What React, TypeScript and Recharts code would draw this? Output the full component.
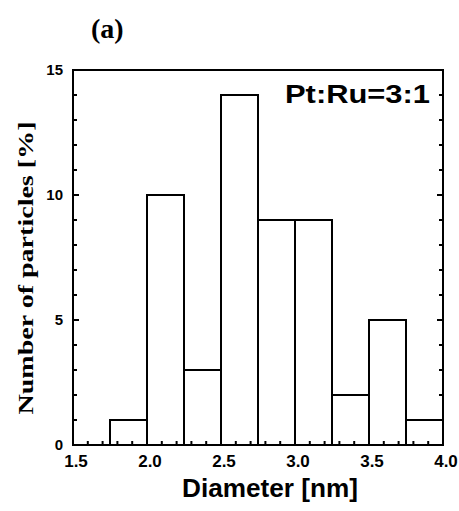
import { ComposedChart, Bar, XAxis, YAxis, ReferenceArea } from 'recharts'

const binStart = [1.5, 1.75, 2.0, 2.25, 2.5, 2.75, 3.0, 3.25, 3.5, 3.75]
const binWidth = 0.25
const counts = [0, 1, 10, 3, 14, 9, 9, 2, 5, 1]

const xTicks = [1.5, 1.6, 1.7, 1.8, 1.9, 2.0, 2.1, 2.2, 2.3, 2.4, 2.5, 2.6, 2.7, 2.8, 2.9, 3.0, 3.1, 3.2, 3.3, 3.4, 3.5, 3.6, 3.7, 3.8, 3.9, 4.0]
const yTicks = [0, 1, 2, 3, 4, 5, 6, 7, 8, 9, 10, 11, 12, 13, 14, 15]
const xMajor = [1.5, 2.0, 2.5, 3.0, 3.5, 4.0]
const yMajor = [0, 5, 10, 15]

const data = binStart.map((s, i) => ({
  bin: `${s.toFixed(2)}-${(s + binWidth).toFixed(2)}`,
  mid: s + binWidth / 2,
  count: counts[i],
}))

const sans = '"Liberation Sans", Arial, sans-serif'
const serif = '"Liberation Serif", "Times New Roman", serif'

const isMajor = (list: number[], v: number) => list.some((m) => Math.abs(m - v) < 1e-6)

function BottomTick(props: any) {
  const { x, y, payload } = props
  const major = isMajor(xMajor, payload.value)
  return (
    <g>
      <line x1={x} y1={y} x2={x} y2={y - (major ? 6 : 4)} stroke="#000" strokeWidth={2} />
      {major && (
        <text x={x + 3} y={y + 22} textAnchor="middle" fontFamily={sans} fontWeight="bold" fontSize={17} fill="#000">
          {payload.value.toFixed(1)}
        </text>
      )}
    </g>
  )
}

function LeftTick(props: any) {
  const { x, y, payload } = props
  const major = isMajor(yMajor, payload.value)
  return (
    <g>
      <line x1={x} y1={y} x2={x + (major ? 6 : 4)} y2={y} stroke="#000" strokeWidth={2} />
      {major && (
        <text x={x - 10} y={y + 5} textAnchor="end" fontFamily={sans} fontWeight="bold" fontSize={15} fill="#000">
          {payload.value}
        </text>
      )}
    </g>
  )
}

function RightTick(props: any) {
  const { x, y, payload } = props
  const major = isMajor(yMajor, payload.value)
  return <line x1={x} y1={y} x2={x - (major ? 6 : 4)} y2={y} stroke="#000" strokeWidth={2} />
}

export default function App() {
  return (
    <div style={{ position: 'absolute', left: 0, top: 0, width: 459, height: 511, background: '#fff' }}>
      <ComposedChart
        width={459}
        height={511}
        data={data}
        barCategoryGap={0}
        barGap={0}
        margin={{ top: 70, right: 15, left: 72, bottom: 65 }}
      >
        <XAxis
          xAxisId="num"
          dataKey="mid"
          type="number"
          domain={[1.5, 4]}
          allowDataOverflow
          ticks={xTicks}
          interval={0}
          height={1}
          tickSize={0}
          tickMargin={0}
          tick={<BottomTick />}
          tickLine={false}
          axisLine={false}
        />
        <XAxis xAxisId="cat" dataKey="bin" hide height={0} />
        <YAxis
          yAxisId="left"
          type="number"
          domain={[0, 15]}
          allowDataOverflow
          ticks={yTicks}
          interval={0}
          width={1}
          tickSize={0}
          tickMargin={0}
          tick={<LeftTick />}
          tickLine={false}
          axisLine={false}
        />
        <YAxis
          yAxisId="right"
          orientation="right"
          type="number"
          domain={[0, 15]}
          allowDataOverflow
          ticks={yTicks}
          interval={0}
          width={1}
          tickSize={0}
          tickMargin={0}
          tick={<RightTick />}
          tickLine={false}
          axisLine={false}
        />
        <Bar
          xAxisId="cat"
          yAxisId="left"
          dataKey="count"
          fill="#fff"
          stroke="#000"
          strokeWidth={2}
          isAnimationActive={false}
        />
        <ReferenceArea
          xAxisId="num"
          yAxisId="left"
          x1={1.5}
          x2={4}
          y1={0}
          y2={15}
          fill="none"
          stroke="#000"
          strokeWidth={2}
          ifOverflow="visible"
        />
      </ComposedChart>
      <svg width={459} height={511} style={{ position: 'absolute', left: 0, top: 0, pointerEvents: 'none' }}>
        <text x={91} y={38} fontFamily={serif} fontWeight="bold" fontSize={28} fill="#000">
          (a)
        </text>
        <text x={285} y={103} fontFamily={sans} fontWeight="bold" fontSize={25} textLength={145} lengthAdjust="spacingAndGlyphs" fill="#000">
          Pt:Ru=3:1
        </text>
        <text x={182} y={497} fontFamily={sans} fontWeight="bold" fontSize={25} textLength={176} lengthAdjust="spacingAndGlyphs" fill="#000">
          Diameter [nm]
        </text>
        <text
          x={0}
          y={0}
          transform="translate(33, 268) rotate(-90)"
          textAnchor="middle"
          fontFamily={serif}
          fontWeight="bold"
          fontSize={21}
          textLength={293}
          lengthAdjust="spacingAndGlyphs"
          fill="#000"
        >
          Number of particles [%]
        </text>
      </svg>
    </div>
  )
}
